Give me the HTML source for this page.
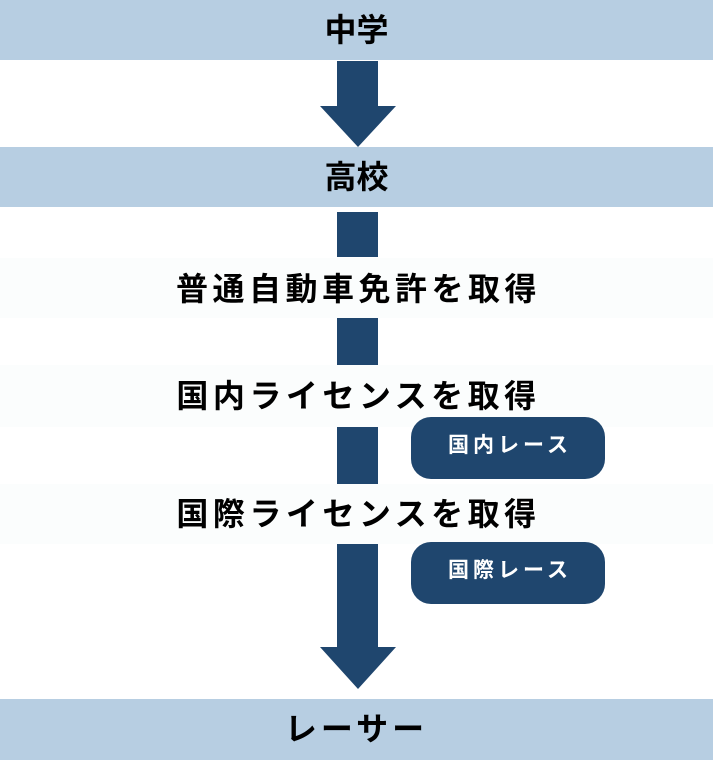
<!DOCTYPE html>
<html><head><meta charset="utf-8"><style>
body{margin:0;width:713px;height:761px;background:#fff;position:relative;overflow:hidden;font-family:"Liberation Sans","Noto Sans CJK JP",sans-serif;font-weight:bold;color:#000}
.bar{position:absolute;left:0;width:713px;background:#b7cee2;text-align:center;font-size:32px}
.band{position:absolute;left:0;width:713px;background:#fbfdfd;text-align:center;font-size:32px;letter-spacing:4.5px;padding-left:4px;box-sizing:border-box}
.b{position:absolute;left:337px;width:41px;background:#1f466e}
.pill{position:absolute;left:411px;width:194px;height:62px;border-radius:20px;background:#1f466e;color:#fff;font-size:21px;letter-spacing:4px;padding-left:4px;box-sizing:border-box;text-align:center;line-height:58px}
</style></head><body>
<div class="bar" style="top:0;height:60px;line-height:60px">中学</div>
<div class="bar" style="top:147px;height:60px;line-height:60px">高校</div>
<div class="bar" style="top:699px;height:61px;line-height:60px;letter-spacing:4px">レーサー</div>
<div class="band" style="top:258px;height:60px;line-height:62px">普通自動車免許を取得</div>
<div class="band" style="top:365px;height:62px;line-height:62px">国内ライセンスを取得</div>
<div class="band" style="top:484px;height:60px;line-height:60px">国際ライセンスを取得</div>
<div class="b" style="top:61px;height:46px"></div>
<div class="b" style="top:212px;height:45px"></div>
<div class="b" style="top:318px;height:47px"></div>
<div class="b" style="top:427px;height:57px"></div>
<div class="b" style="top:544px;height:104px"></div>
<svg style="position:absolute;left:0;top:0" width="713" height="761">
<polygon points="320,106 396,106 358,147" fill="#1f466e"/>
<polygon points="320,647 396,647 358,689" fill="#1f466e"/>
</svg>
<div class="pill" style="top:417px">国内レース</div>
<div class="pill" style="top:542px">国際レース</div>
</body></html>
